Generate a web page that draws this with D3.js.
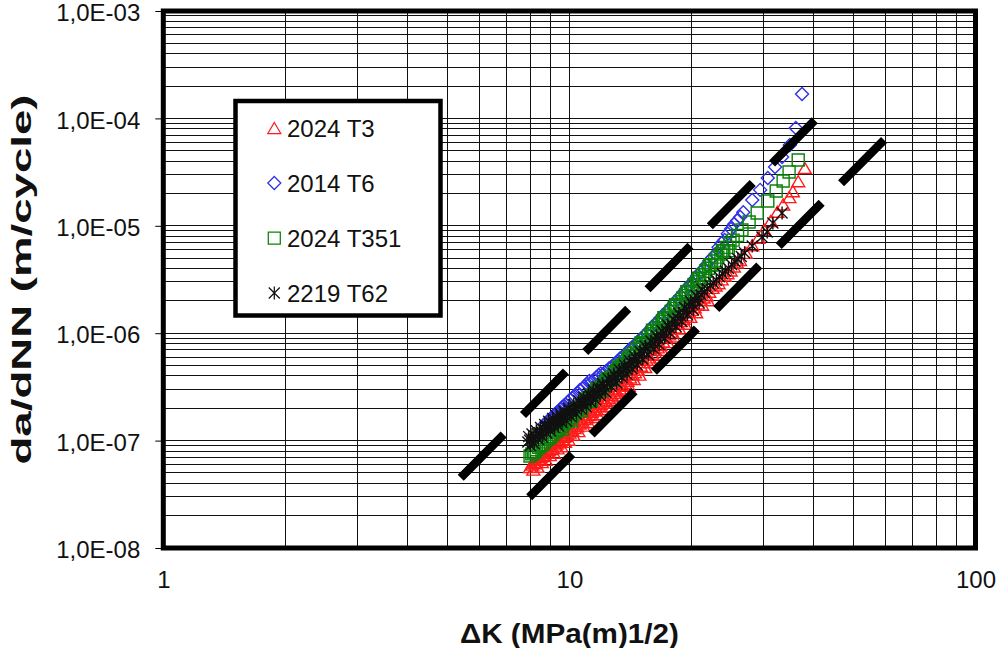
<!DOCTYPE html>
<html>
<head>
<meta charset="utf-8">
<script src="https://cdn.jsdelivr.net/npm/d3@7"></script>
<style>
  html, body { margin: 0; padding: 0; background: #fff; }
  svg { display: block; font-family: Arial, "Liberation Sans", sans-serif; }
</style>
</head>
<body>
<svg id="chart" width="1002" height="648"></svg>
<script>
// ---- Crack growth rate data: ΔK (MPa·m^1/2) and da/dN (m/cycle) ----
const seriesNames = ["2024 T3", "2014 T6", "2024 T351", "2219 T62"];

const deltaK_2024T3 = [8.0, 8.1, 8.2, 8.3, 8.4, 8.5, 8.6, 8.7, 8.8, 8.9, 9.0, 9.1, 9.2, 9.3, 9.4, 9.5, 9.6, 9.7, 9.8, 9.9, 10.0,
  10.15, 10.3, 10.45, 10.6, 10.75, 10.9, 11.05, 11.2, 11.35, 11.5, 11.65, 11.8, 11.95, 12.1,
  12.3, 12.5, 12.7, 12.9, 13.1, 13.3, 13.5, 13.7, 13.9, 14.1, 14.3, 14.5,
  14.75, 15.0, 15.25, 15.5, 15.75, 16.0, 16.25, 16.5, 16.75, 17.0,
  17.3, 17.6, 17.9, 18.2, 18.5, 18.8, 19.1, 19.4, 19.7, 20.0,
  20.35, 20.7, 21.05, 21.4, 21.75, 22.1,
  22.5, 22.9, 23.3, 23.7, 24.1, 24.5,
  24.95, 25.4, 25.85, 26.3,
  27.2, 28.2, 29.2, 30.2, 31.3, 32.5, 33.6, 34.8, 35.5, 36.6, 38.0,
  // second specimen
  8.15, 8.35, 8.55, 8.75, 8.95, 9.15, 9.35, 9.55, 9.75, 9.95,
  10.22, 10.52, 10.82, 11.12, 11.42, 11.72, 12.02, 12.4, 12.8, 13.2,
  13.6, 14.0, 14.4, 14.87, 15.37, 15.87, 16.37, 16.87, 17.45, 18.05,
  18.65, 19.25, 19.85, 20.52, 21.22, 21.92];
const dadN_2024T3 = [5.68e-8, 5.97e-8, 6.15e-8, 6.33e-8, 6.67e-8, 7.0e-8, 7.19e-8, 7.38e-8, 7.76e-8, 8.14e-8, 8.34e-8,
  8.55e-8, 8.97e-8, 9.4e-8, 9.62e-8, 9.85e-8, 1.033e-7, 1.082e-7, 1.107e-7, 1.133e-7, 1.186e-7,
  1.262e-7, 1.312e-7, 1.36e-7, 1.445e-7, 1.533e-7, 1.589e-7, 1.645e-7, 1.742e-7, 1.845e-7, 1.905e-7, 1.96e-7, 2.07e-7, 2.185e-7, 2.25e-7,
  2.34e-7, 2.50e-7, 2.67e-7, 2.77e-7, 2.87e-7, 3.06e-7, 3.29e-7, 3.44e-7, 3.60e-7, 3.87e-7, 4.15e-7, 4.33e-7,
  4.57e-7, 4.97e-7, 5.38e-7, 5.66e-7, 5.96e-7, 6.46e-7, 7.0e-7, 7.38e-7, 7.76e-7, 8.39e-7,
  9.17e-7, 9.75e-7, 1.035e-6, 1.13e-6, 1.228e-6, 1.297e-6, 1.36e-6, 1.466e-6, 1.578e-6, 1.65e-6,
  1.74e-6, 1.89e-6, 2.045e-6, 2.15e-6, 2.25e-6, 2.43e-6,
  2.64e-6, 2.78e-6, 2.92e-6, 3.17e-6, 3.44e-6, 3.62e-6,
  3.83e-6, 4.18e-6, 4.55e-6, 4.81e-6,
  5.60e-6, 6.59e-6, 7.74e-6, 9.18e-6, 1.107e-5, 1.35e-5, 1.58e-5, 1.85e-5, 2.1e-5, 2.6e-5, 3.45e-5,
  // second specimen
  5.37e-8, 5.70e-8, 6.30e-8, 6.64e-8, 7.33e-8, 7.70e-8, 8.46e-8, 8.87e-8, 9.74e-8, 1.020e-7,
  1.136e-7, 1.224e-7, 1.380e-7, 1.481e-7, 1.661e-7, 1.764e-7, 1.967e-7, 2.106e-7, 2.403e-7, 2.583e-7,
  2.961e-7, 3.240e-7, 3.735e-7, 4.113e-7, 4.842e-7, 5.364e-7, 6.30e-7, 6.984e-7, 8.253e-7, 9.315e-7,
  1.105e-6, 1.224e-6, 1.420e-6, 1.566e-6, 1.841e-6, 2.025e-6];

const deltaK_2014T6 = [8.7, 8.8, 8.9, 9.0, 9.1, 9.2, 9.3, 9.4, 9.5, 9.6, 9.7, 9.8, 9.9,
  10.03, 10.15, 10.3, 10.45, 10.6, 10.75, 10.9, 11.05, 11.2, 11.35, 11.5, 11.65, 11.8, 11.95,
  12.12, 12.3, 12.5, 12.7, 12.9, 13.1, 13.3, 13.5, 13.7, 13.9, 14.1, 14.3,
  14.52, 14.75, 15.0, 15.25, 15.5, 15.75, 16.0, 16.25, 16.5, 16.75,
  17.02, 17.3, 17.6, 17.9, 18.2, 18.5, 18.8, 19.1, 19.4, 19.7,
  20.02, 20.35, 20.7, 21.05, 21.4, 21.75, 22.12, 22.5, 22.9, 23.3,
  23.7, 24.1, 24.55, 25.0, 25.45, 25.9, 26.35, 26.8,
  28.2, 29.5, 30.8, 32.1, 33.4, 34.9, 36.1, 37.4];
const dadN_2014T6 = [1.427e-7, 1.50e-7, 1.549e-7, 1.595e-7, 1.677e-7, 1.762e-7, 1.815e-7, 1.865e-7, 1.958e-7, 2.055e-7, 2.112e-7, 2.168e-7, 2.272e-7,
  2.40e-7, 2.489e-7, 2.60e-7, 2.765e-7, 2.94e-7, 3.063e-7, 3.19e-7, 3.386e-7, 3.59e-7, 3.54e-7, 3.68e-7, 3.88e-7, 4.09e-7, 4.22e-7,
  4.16e-7, 4.40e-7, 4.68e-7, 4.89e-7, 5.10e-7, 5.42e-7, 5.77e-7, 6.03e-7, 6.30e-7, 6.71e-7, 7.13e-7, 7.43e-7,
  7.79e-7, 8.32e-7, 8.93e-7, 9.41e-7, 9.96e-7, 1.074e-6, 1.155e-6, 1.219e-6, 1.284e-6, 1.378e-6,
  1.485e-6, 1.571e-6, 1.672e-6, 1.813e-6, 1.967e-6, 2.095e-6, 2.228e-6, 2.412e-6, 2.61e-6, 2.768e-6,
  2.943e-6, 3.192e-6, 3.474e-6, 3.711e-6, 3.969e-6, 4.325e-6, 4.725e-6, 5.067e-6, 5.445e-6, 6.30e-6,
  6.89e-6, 7.38e-6, 8.44e-6, 9.35e-6, 1.034e-5, 1.121e-5, 1.21e-5, 1.334e-5,
  1.74e-5, 2.16e-5, 2.79e-5, 3.53e-5, 4.37e-5, 5.65e-5, 8.14e-5, 1.69e-4];

const deltaK_2024T351 = [8.0, 8.08, 8.15, 8.22, 8.3, 8.4, 8.5, 8.6, 8.7, 8.8, 8.9, 9.0, 9.1, 9.2, 9.3,
  9.42, 9.55, 9.68, 9.8, 9.92, 10.05, 10.2, 10.35, 10.5, 10.65, 10.8, 10.95, 11.1, 11.25,
  11.42, 11.6, 11.78, 11.95, 12.12, 12.3, 12.5, 12.7, 12.9, 13.1, 13.3, 13.5,
  13.72, 13.95, 14.18, 14.4, 14.65, 14.9, 15.15, 15.4, 15.65, 15.9,
  16.15, 16.4, 16.68, 16.95, 17.22, 17.5, 17.8, 18.1, 18.4, 18.7,
  19.0, 19.3, 19.62, 19.95, 20.28, 20.6, 20.95, 21.3, 21.65, 22.0,
  22.4, 22.8, 23.2, 23.6, 24.0, 24.4, 24.85, 25.3, 25.95, 26.6,
  27.7, 29.0, 30.8, 32.3, 33.6, 34.75, 36.6,
  // second specimen
  9.36, 9.61, 9.86, 10.12, 10.42, 10.72, 11.02, 11.33, 11.68, 12.03,
  12.4, 12.8, 13.2, 13.6, 14.06, 14.52, 15.02, 15.52, 16.02, 16.54,
  17.08, 17.65, 18.25, 18.85, 19.46, 20.12, 20.78, 21.48, 22.2, 23.0,
  23.8, 24.62];
const dadN_2024T351 = [7.19e-8, 7.52e-8, 7.69e-8, 7.86e-8, 8.21e-8, 8.66e-8, 8.95e-8, 9.23e-8, 9.73e-8, 1.025e-7, 1.056e-7, 1.087e-7, 1.143e-7, 1.20e-7, 1.236e-7,
  1.283e-7, 1.359e-7, 1.437e-7, 1.491e-7, 1.545e-7, 1.633e-7, 1.742e-7, 1.824e-7, 1.906e-7, 2.032e-7, 2.162e-7, 2.258e-7, 2.354e-7, 2.503e-7,
  2.677e-7, 2.81e-7, 2.943e-7, 3.144e-7, 3.352e-7, 3.506e-7, 3.69e-7, 3.963e-7, 4.255e-7, 4.48e-7, 4.71e-7, 5.05e-7,
  5.44e-7, 5.754e-7, 6.08e-7, 6.55e-7, 7.10e-7, 7.55e-7, 8.01e-7, 8.66e-7, 9.34e-7, 9.89e-7,
  1.045e-6, 1.125e-6, 1.216e-6, 1.291e-6, 1.366e-6, 1.473e-6, 1.598e-6, 1.703e-6, 1.81e-6, 1.962e-6,
  2.12e-6, 2.252e-6, 2.40e-6, 2.604e-6, 2.826e-6, 3.013e-6, 3.215e-6, 3.497e-6, 3.78e-6, 4.022e-6,
  4.305e-6, 4.697e-6, 5.11e-6, 5.46e-6, 5.81e-6, 6.30e-6, 6.87e-6, 7.36e-6, 8.12e-6, 9.14e-6,
  1.085e-5, 1.316e-5, 1.70e-5, 2.11e-5, 2.61e-5, 3.17e-5, 4.10e-5,
  // second specimen
  1.335e-7, 1.264e-7, 1.610e-7, 1.519e-7, 1.970e-7, 1.890e-7, 2.439e-7, 2.328e-7, 3.035e-7, 2.924e-7,
  3.786e-7, 3.686e-7, 4.838e-7, 4.697e-7, 6.214e-7, 6.092e-7, 8.154e-7, 8.054e-7, 1.068e-6, 1.046e-6,
  1.394e-6, 1.370e-6, 1.839e-6, 1.825e-6, 2.432e-6, 2.422e-6, 3.254e-6, 3.252e-6, 4.344e-6, 4.368e-6,
  5.897e-6, 5.859e-6];

const deltaK_2219T62 = [7.9, 7.98, 8.05, 8.15, 8.25, 8.35, 8.45, 8.55, 8.65, 8.75, 8.85, 8.95, 9.05, 9.15, 9.25,
  9.35, 9.45, 9.55, 9.65, 9.78, 9.9, 10.05, 10.2, 10.35, 10.5, 10.65, 10.8, 10.95, 11.1,
  11.25, 11.4, 11.55, 11.7, 11.85, 12.0, 12.2, 12.4, 12.6, 12.8, 13.0, 13.2,
  13.4, 13.6, 13.8, 14.0, 14.2, 14.4, 14.62, 14.85, 15.07, 15.3,
  15.55, 15.8, 16.05, 16.3, 16.55, 16.8, 17.07, 17.35, 17.62, 17.9,
  18.2, 18.5, 18.8, 19.1, 19.42, 19.75, 20.08, 20.4, 20.75, 21.1,
  21.48, 21.85, 22.22, 22.6, 23.0, 23.4, 23.8, 24.2, 24.65, 25.1,
  25.55, 26.0, 26.5, 27.0, 28.2, 29.8, 30.7, 31.7, 33.4,
  // second specimen
  7.94, 8.02, 8.09, 8.19, 8.29, 8.39, 8.49, 8.59, 8.69, 8.79, 8.89, 8.99, 9.09, 9.19, 9.29,
  9.39, 9.49, 9.59, 9.7, 9.83, 9.95, 10.1, 10.25, 10.4, 10.55, 10.7, 10.85, 11.0, 11.15,
  11.3, 11.45, 11.6, 11.75, 11.9, 12.07, 12.27, 12.47, 12.67, 12.87, 13.07, 13.27,
  13.47, 13.67, 13.87, 14.07, 14.27, 14.48, 14.7, 14.93, 15.15, 15.38,
  15.63, 15.88, 16.13, 16.38, 16.63, 16.9, 17.16, 17.44, 17.71, 18.0,
  18.3, 18.6, 18.9, 19.2, 19.53, 19.86, 20.2, 20.52, 20.87, 21.22];
const dadN_2219T62 = [9.72e-8, 1.01e-7, 1.027e-7, 1.053e-7, 1.102e-7, 1.152e-7, 1.181e-7, 1.209e-7, 1.263e-7, 1.318e-7, 1.349e-7, 1.377e-7, 1.433e-7, 1.486e-7, 1.511e-7,
  1.535e-7, 1.592e-7, 1.65e-7, 1.676e-7, 1.712e-7, 1.785e-7, 1.876e-7, 1.932e-7, 1.99e-7, 2.093e-7, 2.198e-7, 2.263e-7, 2.327e-7, 2.442e-7,
  2.56e-7, 2.63e-7, 2.70e-7, 2.825e-7, 2.96e-7, 3.04e-7, 3.17e-7, 3.37e-7, 3.58e-7, 3.725e-7, 3.87e-7, 4.106e-7,
  4.35e-7, 4.509e-7, 4.67e-7, 4.94e-7, 5.24e-7, 5.45e-7, 5.69e-7, 6.07e-7, 6.47e-7, 6.75e-7,
  7.07e-7, 7.56e-7, 8.07e-7, 8.44e-7, 8.82e-7, 9.40e-7, 1.011e-6, 1.066e-6, 1.122e-6, 1.205e-6,
  1.298e-6, 1.371e-6, 1.444e-6, 1.552e-6, 1.674e-6, 1.770e-6, 1.862e-6, 2.00e-6, 2.153e-6, 2.273e-6,
  2.404e-6, 2.594e-6, 2.79e-6, 2.945e-6, 3.113e-6, 3.358e-6, 3.605e-6, 3.795e-6, 4.01e-6, 4.33e-6,
  4.66e-6, 4.91e-6, 5.19e-6, 5.60e-6, 6.50e-6, 7.86e-6, 8.75e-6, 1.062e-5, 1.316e-5,
  // second specimen
  1.089e-7, 8.99e-8, 1.150e-7, 9.37e-8, 1.234e-7, 1.025e-7, 1.323e-7, 1.076e-7, 1.415e-7, 1.173e-7, 1.511e-7, 1.226e-7, 1.605e-7, 1.323e-7, 1.692e-7,
  1.366e-7, 1.783e-7, 1.469e-7, 1.877e-7, 1.524e-7, 1.999e-7, 1.670e-7, 2.164e-7, 1.771e-7, 2.344e-7, 1.956e-7, 2.535e-7, 2.071e-7, 2.735e-7,
  2.278e-7, 2.946e-7, 2.403e-7, 3.164e-7, 2.634e-7, 3.405e-7, 2.821e-7, 3.774e-7, 3.186e-7, 4.172e-7, 3.444e-7, 4.599e-7,
  3.872e-7, 5.05e-7, 4.156e-7, 5.533e-7, 4.664e-7, 6.104e-7, 5.064e-7, 6.798e-7, 5.758e-7, 7.56e-7,
  6.292e-7, 8.467e-7, 7.182e-7, 9.453e-7, 7.850e-7, 1.053e-6, 8.998e-7, 1.194e-6, 9.986e-7, 1.350e-6,
  1.155e-6, 1.536e-6, 1.285e-6, 1.738e-6, 1.490e-6, 1.982e-6, 1.657e-6, 2.24e-6, 1.916e-6, 2.546e-6];

// Scatter band limits (ΔK, da/dN end points)
const upperBandK = [5.4, 40.2];
const upperBandRate = [4.5e-8, 9.6e-5];
const lowerBandK = [7.96, 59.7];
const lowerBandRate = [2.97e-8, 6.35e-5];

// Axis ticks
const xTickValues = [1, 10, 100];
const xTickLabels = ["1", "10", "100"];
const yTickValues = [1e-8, 1e-7, 1e-6, 1e-5, 1e-4, 1e-3];
const yTickLabels = ["1,0E-08", "1,0E-07", "1,0E-06", "1,0E-05", "1,0E-04", "1,0E-03"];

// ---- Layout ----
const plot = { left: 163.3, right: 975.5, top: 11, bottom: 548 };
const svg = d3.select("#chart");

const x = d3.scaleLog().domain([1, 100]).range([plot.left, plot.right]);
const y = d3.scaleLog().domain([1e-8, 1e-3]).range([plot.bottom, plot.top]);

// Grid (every integer multiple in each decade)
const gGrid = svg.append("g").attr("stroke", "#111").attr("stroke-width", 1).attr("shape-rendering", "crispEdges");
gGrid.selectAll("line.vx").data(x.ticks().filter(v => v > 1 && v < 100)).join("line")
  .attr("x1", d => x(d)).attr("x2", d => x(d))
  .attr("y1", plot.top).attr("y2", plot.bottom);
gGrid.selectAll("line.hy").data(y.ticks().filter(v => v > 1e-8 * 1.0001 && v < 1e-3 * 0.9999)).join("line")
  .attr("y1", d => y(d)).attr("y2", d => y(d))
  .attr("x1", plot.left).attr("x2", plot.right);

// Axes: labels and small outside ticks on the value axis
const yAxis = d3.axisLeft(y).tickValues(yTickValues)
  .tickFormat((d, i) => yTickLabels[i]).tickSize(8).tickPadding(15);
const gy = svg.append("g").attr("transform", `translate(${plot.left},0)`).call(yAxis);
gy.select(".domain").remove();
gy.selectAll(".tick line").attr("stroke", "#000").attr("stroke-width", 1);
gy.selectAll(".tick text").attr("font-size", 24).attr("fill", "#111").attr("dy", "0.40em")
  .attr("font-family", "Arial, 'Liberation Sans', sans-serif");

const xAxis = d3.axisBottom(x).tickValues(xTickValues)
  .tickFormat((d, i) => xTickLabels[i]).tickSize(0).tickPadding(23);
const gx = svg.append("g").attr("transform", `translate(0,${plot.bottom})`).call(xAxis);
gx.select(".domain").remove();
gx.selectAll(".tick text").attr("font-size", 24).attr("fill", "#111")
  .attr("font-family", "Arial, 'Liberation Sans', sans-serif");

// ---- Markers ----
const markerPath = {
  triangle: "M0,-5.5L6.5,5.5L-6.5,5.5Z",
  diamond: "M0,-6.5L6.5,0L0,6.5L-6.5,0Z",
  square: "M-6,-6H6V6H-6Z",
  star: "M0,-6.5V6.5M-5.5,-5.5L5.5,5.5M5.5,-5.5L-5.5,5.5"
};

const series = [
  { name: seriesNames[0], k: deltaK_2024T3, r: dadN_2024T3, shape: "triangle", color: "#ff1a1a" },
  { name: seriesNames[1], k: deltaK_2014T6, r: dadN_2014T6, shape: "diamond", color: "#3030ea" },
  { name: seriesNames[2], k: deltaK_2024T351, r: dadN_2024T351, shape: "square", color: "#0a820a" },
  { name: seriesNames[3], k: deltaK_2219T62, r: dadN_2219T62, shape: "star", color: "#111111" }
];

const gData = svg.append("g");
series.forEach(s => {
  const n = Math.min(s.k.length, s.r.length);
  const pts = s.k.slice(0, n).map((k, i) => ({ k, r: s.r[i] }));
  gData.append("g").selectAll("path").data(pts).join("path")
    .attr("d", markerPath[s.shape])
    .attr("transform", d => `translate(${x(d.k)},${y(d.r)})`)
    .attr("fill", "none")
    .attr("stroke", s.color)
    .attr("stroke-width", 1.4);
});

// Scatter band limits as heavy dashed lines
const bandLine = d3.line().x(d => x(d[0])).y(d => y(d[1]));
[[upperBandK, upperBandRate], [lowerBandK, lowerBandRate]].forEach(([ks, rs]) => {
  svg.append("path")
    .attr("d", bandLine(ks.map((k, i) => [k, rs[i]])))
    .attr("fill", "none").attr("stroke", "#000")
    .attr("stroke-width", 8.5).attr("stroke-dasharray", "61,27.5")
    .attr("stroke-linecap", "butt");
});

// Plot frame
svg.append("rect")
  .attr("x", plot.left).attr("y", plot.top)
  .attr("width", plot.right - plot.left).attr("height", plot.bottom - plot.top)
  .attr("fill", "none").attr("stroke", "#000").attr("stroke-width", 5);

// Axis titles
svg.append("text")
  .attr("x", (plot.left + plot.right) / 2).attr("y", 643)
  .attr("text-anchor", "middle").attr("font-size", 27).attr("font-weight", "bold").attr("fill", "#111")
  .attr("textLength", 219).attr("lengthAdjust", "spacingAndGlyphs")
  .text("\u0394K (MPa(m)1/2)");
svg.append("text")
  .attr("transform", `translate(31,${(plot.top + plot.bottom) / 2}) rotate(-90)`)
  .attr("text-anchor", "middle").attr("font-size", 27).attr("font-weight", "bold").attr("fill", "#111")
  .attr("textLength", 370).attr("lengthAdjust", "spacingAndGlyphs")
  .text("da/dNN (m/cycle)");

// Legend
const legend = { x: 235.5, y: 101, w: 205, h: 214.5 };
const gLeg = svg.append("g");
gLeg.append("rect")
  .attr("x", legend.x).attr("y", legend.y).attr("width", legend.w).attr("height", legend.h)
  .attr("fill", "#fff").attr("stroke", "#000").attr("stroke-width", 4.5);
const legendRows = [128, 183, 238, 293];
series.forEach((s, i) => {
  gLeg.append("path").attr("d", markerPath[s.shape])
    .attr("transform", `translate(274.3,${legendRows[i]})`)
    .attr("fill", "none").attr("stroke", s.color).attr("stroke-width", 1.25);
  gLeg.append("text").attr("x", 287).attr("y", legendRows[i]).attr("dy", "0.36em")
    .attr("font-size", 24).attr("fill", "#111").text(s.name);
});
</script>
</body>
</html>
